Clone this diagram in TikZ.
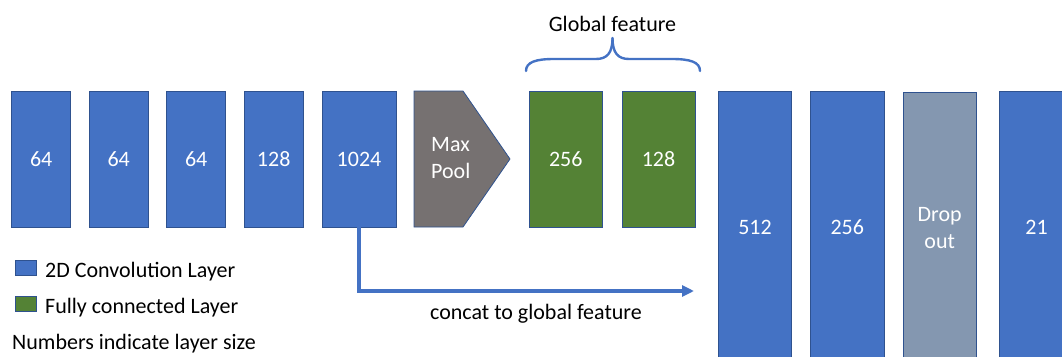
\documentclass[tikz,border=0pt]{standalone}
\usepackage{fontspec}
\setmainfont{Carlito}
\usetikzlibrary{arrows.meta}

\definecolor{convblue}{HTML}{4472C4}
\definecolor{edgeblue}{HTML}{2F528F}
\definecolor{fcgreen}{HTML}{548235}
\definecolor{poolgray}{HTML}{767171}
\definecolor{dropgray}{HTML}{8497B0}

\begin{document}
\begin{tikzpicture}[x=1pt,y=-1pt,
  txt/.style={font=\fontsize{22}{27}\selectfont, inner sep=0pt},
  layer/.style={txt, draw=edgeblue, line width=0.8pt, text=white,
                minimum height=136pt, align=center},
  conv/.style={layer, fill=convblue},
  fc/.style={layer, fill=fcgreen},
  drop/.style={layer, fill=dropgray},
  tall/.style={minimum height=272pt},
  plaintext/.style={txt, text=black},
  legendbox/.style={draw=edgeblue, line width=0.8pt, minimum width=21.7pt,
                    minimum height=15.7pt, inner sep=0pt},
  bracket/.style={draw=convblue, line width=2.4pt, line cap=round},
  concat/.style={draw=convblue, line width=3.6pt,
                 -{Triangle[length=12pt,width=11pt]}}
]
\clip (0,0) rectangle (1062,356);

% convolution stack
\node[conv, minimum width=59pt] (c1) at (41.2,159) {64};
\node[conv, minimum width=59pt] (c2) at (118.7,159) {64};
\node[conv, minimum width=59pt] (c3) at (196.2,159) {64};
\node[conv, minimum width=59pt] (c4) at (273.7,159) {128};
\node[conv, minimum width=74pt] (c5) at (359,159) {1024};

% max pooling
\draw[draw=edgeblue, fill=poolgray, line width=0.8pt]
  (414,91) -- (463,91) -- (510,159) -- (463,227) -- (414,227) -- cycle;
\node[txt, text=white, align=left, anchor=west] (pool) at (431,158) {Max\\Pool};

% fully connected layers
\node[fc, minimum width=73pt] (f1) at (565.8,159) {256};
\node[fc, minimum width=73pt] (f2) at (658.5,159) {128};

% global feature bracket
\draw[bracket] (526,71) .. controls (526,62) and (536,59) .. (554,59)
  -- (596,59) .. controls (607,59) and (612.5,53) .. (612.5,38);
\draw[bracket] (612.5,38) .. controls (612.5,53) and (618,59) .. (629,59)
  -- (672,59) .. controls (690,59) and (700,62) .. (700,71);
\node[plaintext, anchor=base] (glob) at (612.5,31) {Global feature};

% segmentation head
\node[conv, tall, minimum width=73.4pt] (d1) at (755,227) {512};
\node[conv, tall, minimum width=73.4pt] (d2) at (847.3,227) {256};
\node[drop, tall, minimum width=73.4pt, minimum height=271pt] (d3) at (939.7,228) {Drop\\out};
\node[conv, tall, minimum width=73.4pt] (d4) at (1036.5,227) {21};

% skip connection
\coordinate (concatend) at (694,291);
\draw[concat] (c5.south) |- (concatend);
\node[plaintext, anchor=base] (concatlbl) at (536,319) {concat to global feature};

% legend
\node[legendbox, fill=convblue] (lgconv) at (25.8,268) {};
\node[plaintext, anchor=base west] (lgconvtxt) at (45,277) {2D Convolution Layer};
\node[legendbox, fill=fcgreen] (lgfc) at (25.8,304) {};
\node[plaintext, anchor=base west] (lgfctxt) at (45,313) {Fully connected Layer};
\node[plaintext, anchor=base west] (lgnote) at (12,349) {Numbers indicate layer size};
\end{tikzpicture}
\end{document}
